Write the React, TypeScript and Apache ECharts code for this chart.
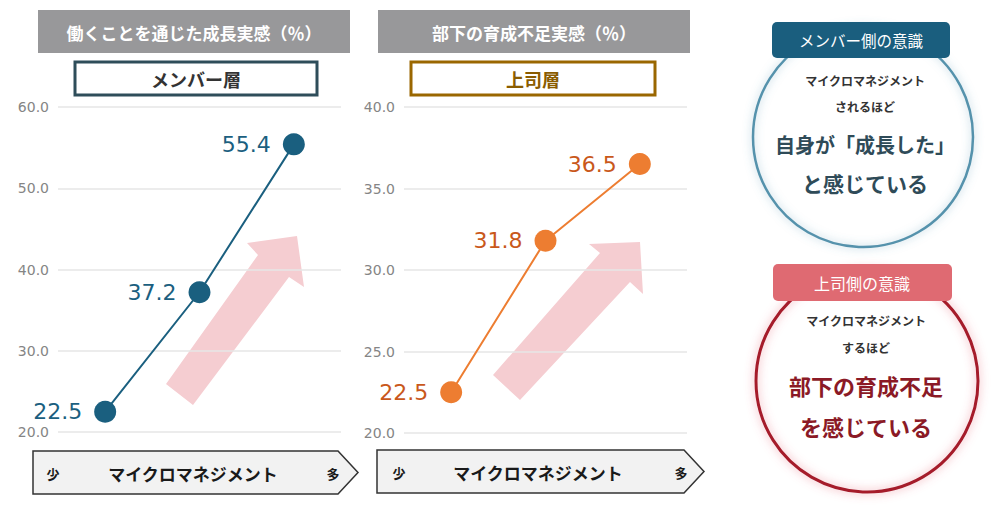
import React, { useEffect, useRef } from "react";
import * as echarts from "echarts";

// ---- data ----
const categories = ["少", "中", "多"];
const memberGrowth = [22.5, 37.2, 55.4]; // 働くことを通じた成長実感（％）
const bossShortage = [22.5, 31.8, 36.5]; // 部下の育成不足実感（％）
const memberAxis = { min: 20, max: 60, interval: 10 };
const bossAxis = { min: 20, max: 40, interval: 5 };
const titles = ["働くことを通じた成長実感（％）", "部下の育成不足実感（％）"];
const subtitles = ["メンバー層", "上司層"];
const axisCaption = "マイクロマネジメント";
const memberMsg = ["マイクロマネジメント", "されるほど", "自身が「成長した」", "と感じている"];
const bossMsg = ["マイクロマネジメント", "するほど", "部下の育成不足", "を感じている"];

const JP = "'Noto Sans CJK JP', 'Noto Sans', sans-serif";
const NUM = "'DejaVu Sans', sans-serif";

function txt(text: string, x: number, y: number, size: number, color: string, weight: any = "bold", z = 20) {
  return {
    type: "text",
    x,
    y,
    z,
    style: {
      text,
      align: "center",
      verticalAlign: "middle",
      fontSize: size,
      fontWeight: weight,
      fontFamily: JP,
      fill: color,
    },
  };
}

function bottomArrow(x0: number, x1: number, tip: number, y0: number, y1: number, cx: number, lx: number, rx: number) {
  const ym = (y0 + y1) / 2;
  return [
    {
      type: "polygon",
      z: 5,
      shape: { points: [[x0, y0], [x1, y0], [tip, ym], [x1, y1], [x0, y1]] },
      style: { fill: "#f2f2f2", stroke: "#333333", lineWidth: 1.5 },
    },
    txt(axisCaption, cx, ym + 1, 17, "#1a1a1a", "bold"),
    txt(categories[0], lx, ym + 1, 13, "#1a1a1a", "bold"),
    txt(categories[2], rx, ym + 1, 13, "#1a1a1a", "bold"),
  ];
}

export default function App() {
  const ref = useRef<HTMLDivElement>(null);
  useEffect(() => {
    if (!ref.current) return;
    const chart = echarts.init(ref.current, undefined, { renderer: "svg" });
    const yAxisBase = (ax: any) => ({
      type: "value",
      min: ax.min,
      max: ax.max,
      interval: ax.interval,
      axisLine: { show: false },
      axisTick: { show: false },
      axisLabel: {
        color: "#858585",
        fontSize: 14,
        fontFamily: NUM,
        margin: 9,
        formatter: (v: number) => v.toFixed(1),
      },
      splitLine: { lineStyle: { color: "#e6e6e6", width: 1.5 } },
    });
    const seriesBase = (data: number[], idx: number, color: string, labelColor: string) => ({
      type: "line",
      xAxisIndex: idx,
      yAxisIndex: idx,
      data,
      symbol: "circle",
      symbolSize: 22,
      z: 5,
      lineStyle: { color, width: 2 },
      itemStyle: { color },
      label: {
        show: true,
        position: "left",
        distance: 12,
        fontSize: 22,
        fontFamily: NUM,
        color: labelColor,
        formatter: (p: any) => Number(p.value).toFixed(1),
      },
    });

    const arrowStyle = { fill: "#f5cdd1" };

    chart.setOption({
      animation: false,
      backgroundColor: "#ffffff",
      grid: [
        { left: 58, top: 107, width: 283, height: 325 },
        { left: 404, top: 107, width: 283, height: 326 },
      ],
      xAxis: [
        { type: "category", gridIndex: 0, data: categories, boundaryGap: true, show: false },
        { type: "category", gridIndex: 1, data: categories, boundaryGap: true, show: false },
      ],
      yAxis: [
        { ...yAxisBase(memberAxis), gridIndex: 0 },
        { ...yAxisBase(bossAxis), gridIndex: 1 },
      ],
      series: [
        seriesBase(memberGrowth, 0, "#1a5f7f", "#1b5f80"),
        seriesBase(bossShortage, 1, "#ed7d31", "#c9581b"),
      ],
      graphic: {
        elements: [
          // pink arrows
          {
            type: "polygon",
            z: 0,
            shape: {
              points: [[166, 384], [258, 255], [247, 243], [297, 236], [304, 287], [289, 277], [193, 405]],
            },
            style: arrowStyle,
          },
          {
            type: "polygon",
            z: 0,
            shape: {
              points: [[493, 375], [600, 253], [589, 244], [640, 242], [643, 294], [630, 282], [520, 400]],
            },
            style: arrowStyle,
          },
          // title bars
          { type: "rect", z: 5, shape: { x: 38, y: 10, width: 312, height: 43 }, style: { fill: "#98989a" } },
          txt(titles[0], 194, 32, 17, "#ffffff", "bold"),
          { type: "rect", z: 5, shape: { x: 378, y: 10, width: 312, height: 43 }, style: { fill: "#98989a" } },
          txt(titles[1], 534, 32, 17, "#ffffff", "bold"),
          // subtitle boxes
          {
            type: "rect",
            z: 5,
            shape: { x: 75, y: 62, width: 242, height: 33 },
            style: { fill: "#ffffff", stroke: "#2e4d5a", lineWidth: 3 },
          },
          txt(subtitles[0], 196, 79, 18, "#333333", "bold"),
          {
            type: "rect",
            z: 5,
            shape: { x: 411, y: 62, width: 244, height: 33 },
            style: { fill: "#ffffff", stroke: "#9a6700", lineWidth: 3 },
          },
          txt(subtitles[1], 533, 79, 18, "#8a5c00", "bold"),
          // bottom axis arrows
          ...bottomArrow(33, 338, 358, 451, 494, 193, 53, 333),
          ...bottomArrow(377, 684, 704, 450, 493, 538, 399, 681),
          // member circle
          {
            type: "circle",
            z: 10,
            shape: { cx: 863, cy: 137, r: 110 },
            style: { fill: "#ffffff" },
          },
          {
            type: "circle",
            z: 11,
            shape: { cx: 863, cy: 137, r: 110 },
            style: {
              fill: "none",
              stroke: "#5592ac",
              lineWidth: 2.5,
              shadowBlur: 8,
              shadowColor: "rgba(90,150,180,0.55)",
            },
          },
          {
            type: "rect",
            z: 12,
            shape: { x: 772, y: 22, width: 178, height: 36, r: 5 },
            style: { fill: "#1a5e7e" },
          },
          txt("メンバー側の意識", 861, 40, 15.5, "#ffffff", "normal", 13),
          txt(memberMsg[0], 865, 80, 12, "#333333", "bold", 13),
          txt(memberMsg[1], 865, 106, 12, "#333333", "bold", 13),
          txt(memberMsg[2], 865, 144, 20, "#2f4b58", "bold", 13),
          txt(memberMsg[3], 865, 183, 21, "#2f4b58", "bold", 13),
          // boss circle
          {
            type: "circle",
            z: 10,
            shape: { cx: 867, cy: 381, r: 111 },
            style: { fill: "#ffffff" },
          },
          {
            type: "circle",
            z: 11,
            shape: { cx: 867, cy: 381, r: 111 },
            style: {
              fill: "none",
              stroke: "#a51c2c",
              lineWidth: 3,
              shadowBlur: 10,
              shadowColor: "rgba(230,100,115,0.65)",
            },
          },
          {
            type: "rect",
            z: 12,
            shape: { x: 773, y: 264, width: 179, height: 37, r: 5 },
            style: { fill: "#df6a72" },
          },
          txt("上司側の意識", 862, 283, 16, "#ffffff", "normal", 13),
          txt(bossMsg[0], 866, 320, 12, "#333333", "bold", 13),
          txt(bossMsg[1], 866, 347, 12, "#333333", "bold", 13),
          txt(bossMsg[2], 866, 385, 22, "#8b1a26", "bold", 13),
          txt(bossMsg[3], 866, 426, 22, "#8b1a26", "bold", 13),
        ],
      },
    });
    return () => chart.dispose();
  }, []);
  return (
    <div
      ref={ref}
      style={{ position: "absolute", left: 0, top: 0, width: 1000, height: 510 }}
    />
  );
}
